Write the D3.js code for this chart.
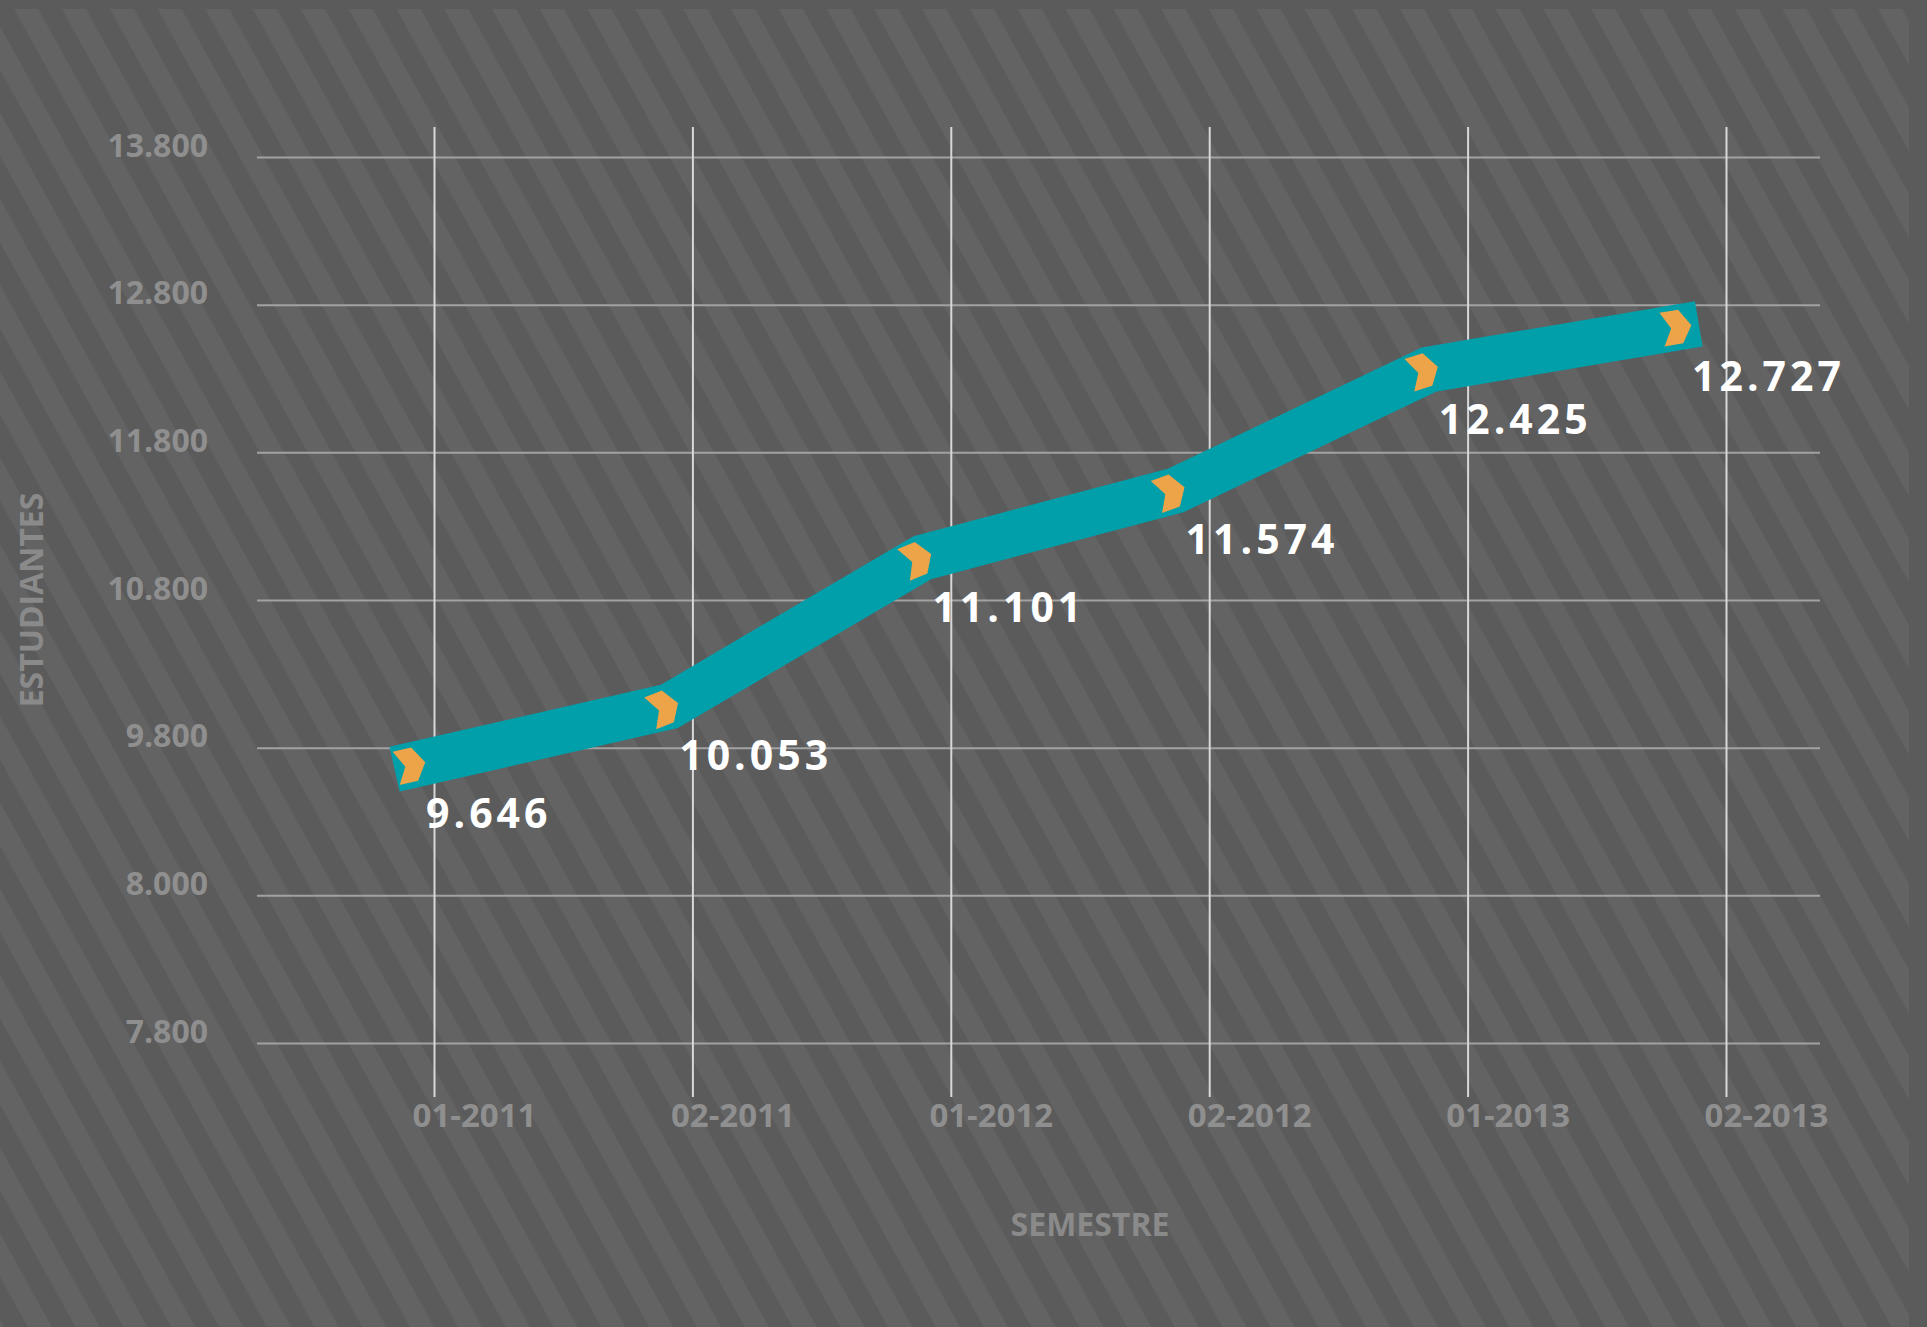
<!DOCTYPE html>
<html>
<head>
<meta charset="utf-8">
<script src="https://cdn.jsdelivr.net/npm/d3@7"></script>
<style>
  html, body { margin: 0; padding: 0; background: #5b5b5b; }
  svg { display: block; }
</style>
</head>
<body>
<svg id="chart" width="1927" height="1327"></svg>
<script>
// ---- data ----
const categories = ["01-2011", "02-2011", "01-2012", "02-2012", "01-2013", "02-2013"];
const students = [9646, 10053, 11101, 11574, 12425, 12727];
const yTickLabels = ["13.800", "12.800", "11.800", "10.800", "9.800", "8.000", "7.800"];
const xTitle = "SEMESTRE";
const yTitle = "ESTUDIANTES";

const W = 1927, H = 1327;
const svg = d3.select("#chart");
const locale = d3.formatLocale({decimal: ",", thousands: ".", grouping: [3], currency: ["$", ""]});
const fmt = locale.format(",");

// ---- background stripes ----
const defs = svg.append("defs");
const pat = defs.append("pattern")
  .attr("id", "stripes")
  .attr("patternUnits", "userSpaceOnUse")
  .attr("width", 41.8).attr("height", 100)
  .attr("patternTransform", "rotate(-29) translate(8,0)");
pat.append("rect").attr("width", 41.8).attr("height", 100).attr("fill", "#5b5b5b");
pat.append("rect").attr("width", 21).attr("height", 100).attr("fill", "#636363");

svg.append("rect").attr("width", W).attr("height", H).attr("fill", "#5b5b5b");
svg.append("rect").attr("x", 0).attr("y", 9).attr("width", 1909).attr("height", H - 9)
  .attr("fill", "url(#stripes)");

// ---- scales ----
const xGrid = d3.scalePoint().domain(categories).range([434, 1726]);
const yGrid = d3.scalePoint().domain(yTickLabels).range([157, 1043]);
const xLine = d3.scalePoint().domain(categories).range([416, 1682]);
const yLine = d3.scaleLinear().domain([9000, 13000]).range([856, 288]);

const gridLeft = 257, gridRight = 1820, vTop = 127, vBottom = 1097;
const labelFont = "'Open Sans', 'DejaVu Sans', sans-serif";

// ---- y axis (horizontal gridlines) ----
const yAxis = svg.append("g")
  .attr("transform", `translate(${gridLeft},0)`)
  .call(d3.axisLeft(yGrid).tickSize(-(gridRight - gridLeft)).tickPadding(49));
yAxis.select(".domain").remove();
yAxis.selectAll(".tick line").attr("stroke", "#a2a2a2").attr("stroke-width", 2);
yAxis.selectAll(".tick text")
  .attr("dy", -1)
  .attr("fill", "#8f8f8f")
  .style("font-family", labelFont)
  .style("font-weight", "700")
  .style("font-size", "32px");

// ---- x axis (vertical gridlines) ----
const xAxis = svg.append("g")
  .attr("transform", `translate(0,${vBottom})`)
  .call(d3.axisBottom(xGrid).tickSize(-(vBottom - vTop)).tickPadding(0));
xAxis.select(".domain").remove();
xAxis.selectAll(".tick line").attr("stroke", "#d8d8d8").attr("stroke-width", 2);
xAxis.selectAll(".tick text")
  .attr("x", 40)
  .attr("y", 30)
  .attr("dy", 0)
  .attr("text-anchor", "middle")
  .attr("fill", "#8f8f8f")
  .style("font-family", labelFont)
  .style("font-weight", "700")
  .style("font-size", "33px");

// ---- axis titles ----
svg.append("text")
  .attr("x", 1090).attr("y", 1236)
  .attr("text-anchor", "middle")
  .attr("fill", "#8a8a8a")
  .style("font-family", labelFont).style("font-weight", "700").style("font-size", "32px")
  .text(xTitle);

svg.append("text")
  .attr("transform", "translate(43,600) rotate(-90)")
  .attr("text-anchor", "middle")
  .attr("fill", "#8a8a8a")
  .style("font-family", labelFont).style("font-weight", "700").style("font-size", "32px")
  .text(yTitle);

// ---- ribbon ----
const pts = categories.map((c, i) => [xLine(c), yLine(students[i])]);
function unit(a, b) {
  const dx = b[0] - a[0], dy = b[1] - a[1], L = Math.hypot(dx, dy);
  return [dx / L, dy / L];
}
const n = pts.length;
const u0 = unit(pts[0], pts[1]);
const uN = unit(pts[n - 2], pts[n - 1]);
const startExt = 22, endExt = 17;
const ribbonPts = [[pts[0][0] - u0[0] * startExt, pts[0][1] - u0[1] * startExt]]
  .concat(pts.slice(1, n - 1))
  .concat([[pts[n - 1][0] + uN[0] * endExt, pts[n - 1][1] + uN[1] * endExt]]);

svg.append("path")
  .attr("d", d3.line()(ribbonPts))
  .attr("fill", "none")
  .attr("stroke", "#009fa9")
  .attr("stroke-width", 46)
  .attr("stroke-linejoin", "miter")
  .attr("stroke-miterlimit", 10)
  .attr("stroke-linecap", "butt");

// ---- chevrons ----
const chevronShape = [[-9, -17.5], [10, -17.5], [20.5, 0], [9.5, 16.5], [-9.5, 16.5], [0, 0]]
  .map(([u, v]) => [u - 11, v]);
pts.forEach((p, i) => {
  let ang;
  if (i === 0) ang = Math.atan2(u0[1], u0[0]);
  else if (i === n - 1) ang = Math.atan2(uN[1], uN[0]);
  else {
    const a = unit(pts[i - 1], p), b = unit(p, pts[i + 1]);
    ang = Math.atan2(a[1] + b[1], a[0] + b[0]);
  }
  svg.append("polygon")
    .attr("points", chevronShape.map(q => q.join(",")).join(" "))
    .attr("transform", `translate(${p[0]},${p[1]}) rotate(${ang * 180 / Math.PI})`)
    .attr("fill", "#eda347");
});

// ---- value labels ----
svg.selectAll(".vlabel")
  .data(students)
  .enter().append("text")
  .attr("class", "vlabel")
  .attr("x", (d, i) => xLine(categories[i]) + 10)
  .attr("y", d => yLine(d) + 64)
  .attr("fill", "#ffffff")
  .style("font-family", labelFont)
  .style("font-weight", "700")
  .style("font-size", "41px")
  .style("letter-spacing", "4px")
  .text(d => fmt(d));
</script>
</body>
</html>
